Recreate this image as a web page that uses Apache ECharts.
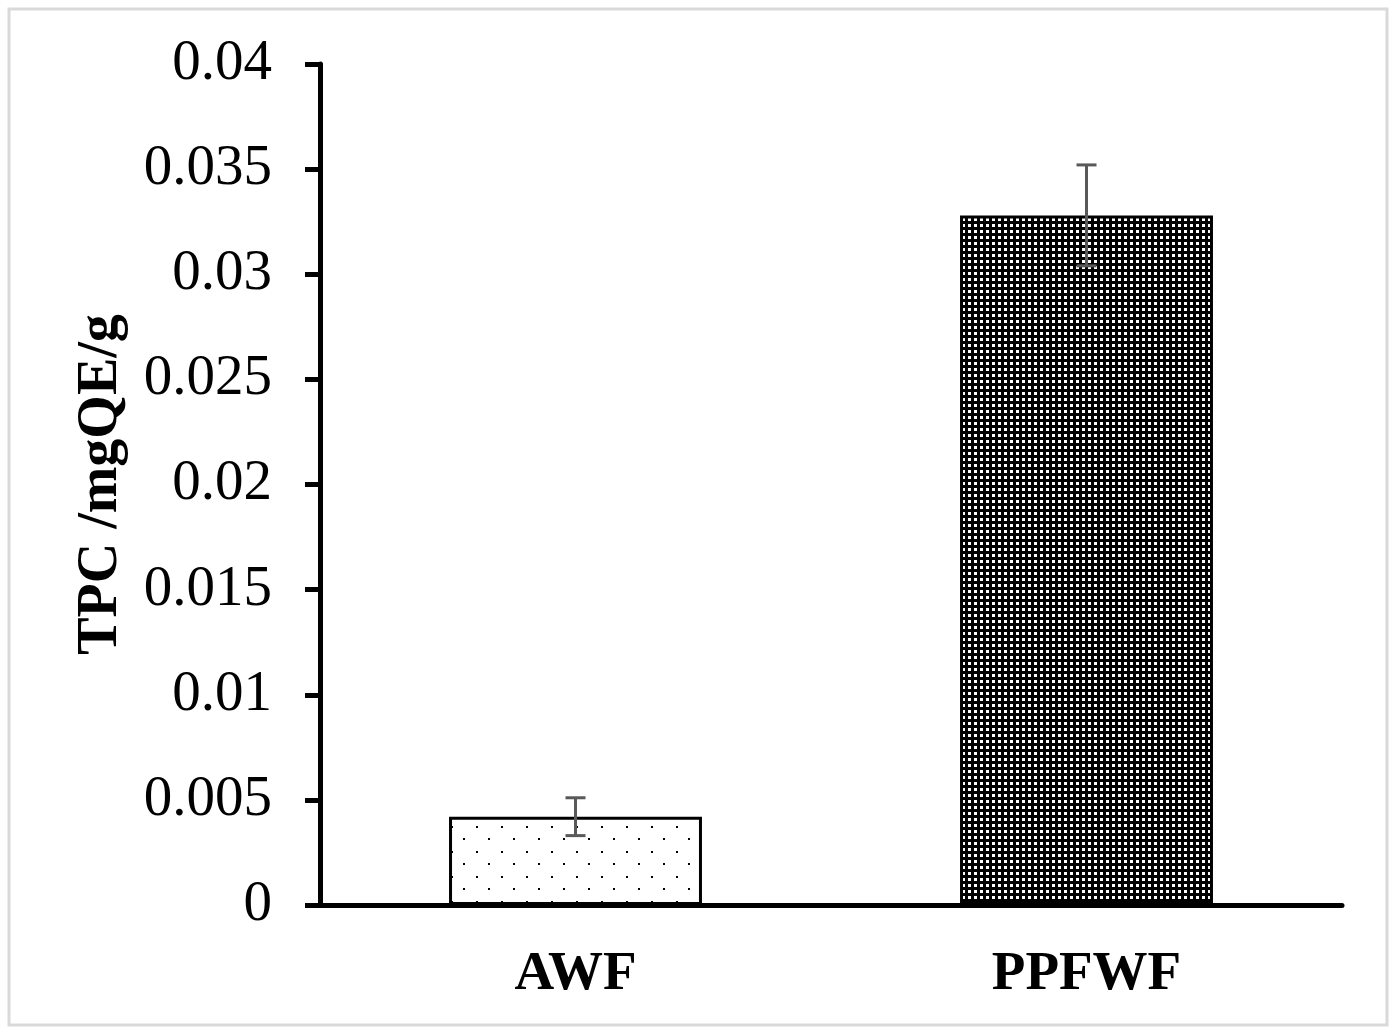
<!DOCTYPE html>
<html>
<head>
<meta charset="utf-8">
<script src="https://cdn.jsdelivr.net/npm/echarts@6/dist/echarts.min.js"></script>
<style>
  html, body { margin: 0; padding: 0; background: #fff; }
  #chart { width: 1393px; height: 1029px; }
</style>
</head>
<body>
<div id="chart"></div>
<script>
var categories = ['AWF', 'PPFWF'];
var values = [0.0042, 0.0328];
var errors = [0.0009, 0.0024];

// dotted fill for AWF
function dotPattern() {
  var c = document.createElement('canvas');
  c.width = 25; c.height = 25;
  var ctx = c.getContext('2d');
  ctx.fillStyle = '#fff';
  ctx.fillRect(0, 0, 25, 25);
  ctx.fillStyle = '#000';
  ctx.fillRect(1, 1, 2, 2);
  ctx.fillRect(13, 13, 2, 2);
  return c;
}
// dense dark fill for PPFWF
function densePattern() {
  var c = document.createElement('canvas');
  c.width = 6; c.height = 6;
  var ctx = c.getContext('2d');
  ctx.fillStyle = '#000';
  ctx.fillRect(0, 0, 6, 6);
  ctx.fillStyle = '#fff';
  ctx.fillRect(2, 2, 3, 3);
  return c;
}
var fills = [
  { image: dotPattern(), repeat: 'repeat' },
  { image: densePattern(), repeat: 'repeat' }
];

var chart = echarts.init(document.getElementById('chart'));
var serif = '"Liberation Serif", "Times New Roman", serif';

chart.setOption({
  animation: false,
  backgroundColor: '#fff',
  graphic: [{
    type: 'rect',
    shape: { x: 9, y: 9, width: 1378, height: 1016 },
    style: { fill: 'none', stroke: '#d9d9d9', lineWidth: 3 },
    z: -1
  }],
  grid: { left: 320, right: 51, top: 64, bottom: 124 },
  xAxis: {
    type: 'category',
    data: categories,
    axisLine: { lineStyle: { color: '#000', width: 5 } },
    axisTick: { show: false },
    axisLabel: {
      margin: 42,
      fontFamily: serif,
      fontWeight: 'bold',
      fontSize: 55,
      color: '#000'
    }
  },
  yAxis: {
    type: 'value',
    min: 0,
    max: 0.04,
    interval: 0.005,
    name: 'TPC /mgQE/g',
    nameLocation: 'middle',
    nameGap: 190,
    nameTextStyle: {
      fontFamily: serif,
      fontWeight: 'bold',
      fontSize: 56,
      color: '#000'
    },
    axisLine: { show: true, lineStyle: { color: '#000', width: 5 } },
    axisTick: { show: true, length: 15, lineStyle: { color: '#000', width: 5 } },
    splitLine: { show: false },
    axisLabel: {
      margin: 48,
      fontFamily: serif,
      fontSize: 57,
      color: '#000'
    }
  },
  series: [{
    type: 'bar',
    barWidth: '49.5%',
    data: values.map(function (v, i) {
      return {
        value: v,
        itemStyle: { color: fills[i], borderColor: '#000', borderWidth: 3 }
      };
    })
  }, {
    type: 'custom',
    data: values.map(function (v, i) { return [i, v - errors[i], v + errors[i]]; }),
    renderItem: function (params, api) {
      var lo = api.coord([api.value(0), api.value(1)]);
      var hi = api.coord([api.value(0), api.value(2)]);
      var hw = 10;
      var st = { stroke: '#595959', lineWidth: 3 };
      return {
        type: 'group',
        children: [
          { type: 'line', shape: { x1: lo[0], y1: lo[1], x2: hi[0], y2: hi[1] }, style: st },
          { type: 'line', shape: { x1: lo[0] - hw, y1: lo[1], x2: lo[0] + hw, y2: lo[1] }, style: st },
          { type: 'line', shape: { x1: hi[0] - hw, y1: hi[1], x2: hi[0] + hw, y2: hi[1] }, style: st }
        ]
      };
    },
    z: 10
  }]
});
</script>
</body>
</html>
